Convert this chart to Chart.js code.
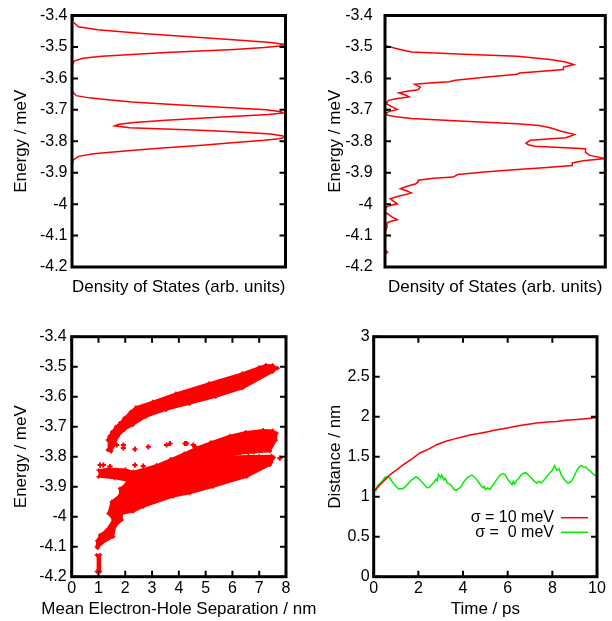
<!DOCTYPE html>
<html>
<head>
<meta charset="utf-8">
<script src="https://cdn.jsdelivr.net/npm/chart.js@4/dist/chart.umd.min.js"></script>
<style>
  body { margin: 0; background: #fff; width: 612px; height: 621px; position: relative; overflow: hidden; }
  canvas { position: absolute; }
</style>
</head>
<body>
<canvas id="dosFlat" width="306" height="310" style="left:0;top:0"></canvas>
<canvas id="dosDisorder" width="306" height="310" style="left:306px;top:0"></canvas>
<canvas id="separation" width="330" height="311" style="left:0;top:310px"></canvas>
<canvas id="distance" width="306" height="311" style="left:306px;top:310px"></canvas>
<script>
// tick values
const energyTicks = [-4.2, -4.1, -4.0, -3.9, -3.8, -3.7, -3.6, -3.5, -3.4];
const separationTicks = [0, 1, 2, 3, 4, 5, 6, 7, 8];
const timeTicks = [0, 2, 4, 6, 8, 10];
const distanceTicks = [0, 0.5, 1, 1.5, 2, 2.5, 3];

// top left: density of states, sigma = 0
const dosFlatEnergy = [-3.40, -3.42, -3.436, -3.445, -3.457, -3.465, -3.473, -3.480, -3.486, -3.492, -3.497, -3.502, -3.508, -3.513, -3.518, -3.524, -3.530, -3.536, -3.545, -3.56,
  -3.64, -3.655, -3.662, -3.668, -3.675, -3.683, -3.691, -3.700, -3.706, -3.710, -3.715, -3.720, -3.727, -3.733, -3.740, -3.746, -3.751, -3.757, -3.765, -3.771, -3.777, -3.783, -3.787, -3.792, -3.797, -3.805, -3.813, -3.821, -3.829, -3.835, -3.840, -3.848, -3.86, -3.88, -4.2];
const dosFlatValue = [0, 0.004, 0.03, 0.12, 0.33, 0.5, 0.67, 0.82, 0.93, 1.0, 0.97, 0.9, 0.76, 0.6, 0.44, 0.28, 0.14, 0.05, 0.01, 0,
  0, 0.02, 0.08, 0.17, 0.28, 0.47, 0.68, 0.91, 0.98, 0.99, 0.92, 0.79, 0.6, 0.44, 0.29, 0.22, 0.2, 0.27, 0.6, 0.8, 0.93, 0.99, 1.0, 0.97, 0.9, 0.75, 0.61, 0.44, 0.29, 0.18, 0.1, 0.03, 0.005, 0, 0];

// top right: density of states, sigma = 10 meV
const dosDisorderEnergy = [-3.40, -3.495, -3.505, -3.516, -3.523, -3.530, -3.540, -3.548, -3.556, -3.564, -3.572, -3.578, -3.583, -3.587, -3.597, -3.606, -3.611, -3.615, -3.619, -3.628,
  -3.636, -3.641, -3.646, -3.652, -3.659, -3.665, -3.670, -3.680, -3.690, -3.699, -3.705, -3.710, -3.717, -3.722, -3.728, -3.736, -3.744, -3.750, -3.757, -3.768,
  -3.778, -3.784, -3.789, -3.797, -3.806, -3.811, -3.816, -3.824, -3.835, -3.845, -3.855, -3.862, -3.869, -3.877, -3.884, -3.890, -3.898, -3.906, -3.914, -3.918,
  -3.924, -3.930, -3.935, -3.943, -3.951, -3.958, -3.965, -3.975, -3.983, -3.991, -3.999, -4.005, -4.010, -4.025, -4.040, -4.050, -4.056, -4.062, -4.068, -4.075,
  -4.090, -4.145, -4.153, -4.160, -4.2];
const dosDisorderValue = [0, 0, 0.05, 0.12, 0.36, 0.6, 0.75, 0.82, 0.857, 0.81, 0.81, 0.7, 0.61, 0.6, 0.44, 0.32, 0.29, 0.2, 0.135, 0.16,
  0.15, 0.1, 0.063, 0.09, 0.11, 0.05, 0.016, 0.005, 0.03, 0.056, 0.02, 0.005, 0.01, 0.05, 0.12, 0.36, 0.6, 0.7, 0.75, 0.8,
  0.86, 0.84, 0.82, 0.66, 0.64, 0.65, 0.68, 0.91, 0.91, 0.93, 1.0, 0.9, 0.85, 0.85, 0.72, 0.6, 0.45, 0.33, 0.31, 0.22,
  0.15, 0.15, 0.14, 0.1, 0.07, 0.1, 0.12, 0.06, 0.024, 0.04, 0.056, 0.02, 0.005, 0, 0.03, 0.056, 0.02, 0.005, 0.01, 0.008,
  0, 0, 0.012, 0, 0];

// bottom left: outlines of the dense point clouds, plus stray points
const bandHighX = [1.34, 1.40, 1.50, 1.65, 1.80, 1.96, 2.20, 2.40, 3.02, 3.89, 5.13, 6.38, 7.00, 7.25, 7.50, 7.69, 7.50, 6.38, 5.38, 4.39, 3.52, 2.77, 2.28, 1.96, 1.72, 1.59, 1.47, 1.34];
const bandHighY = [-3.744, -3.733, -3.718, -3.700, -3.688, -3.672, -3.650, -3.635, -3.617, -3.589, -3.555, -3.522, -3.502, -3.494, -3.495, -3.505, -3.517, -3.572, -3.600, -3.624, -3.644, -3.667, -3.694, -3.711, -3.733, -3.761, -3.783, -3.778];
const bandMidX = [2.30, 3.17, 3.70, 4.20, 4.66, 5.20, 5.90, 6.50, 7.15, 7.50, 7.65, 7.62, 7.40, 6.80, 6.30, 6.03, 5.00, 4.00, 3.00, 2.40];
const bandMidY = [-3.850, -3.828, -3.808, -3.789, -3.770, -3.752, -3.730, -3.718, -3.711, -3.713, -3.722, -3.745, -3.782, -3.786, -3.789, -3.794, -3.830, -3.870, -3.890, -3.880];
const bandLowX = [1.00, 1.40, 2.00, 2.30, 3.00, 4.00, 5.00, 6.03, 6.60, 7.00, 7.46, 7.55, 7.45, 7.40, 6.53, 5.28, 4.41, 3.79, 2.67, 2.30,
  1.87, 1.87, 1.62, 1.55, 1.12, 0.97, 0.93, 0.95, 1.06, 1.31, 1.55, 1.37, 1.49, 1.80, 1.80, 1.93, 2.10, 1.60, 1.00];
const bandLowY = [-3.845, -3.839, -3.843, -3.850, -3.860, -3.840, -3.815, -3.799, -3.798, -3.798, -3.797, -3.803, -3.820, -3.828, -3.867, -3.900, -3.922, -3.933, -3.967, -3.983,
  -3.990, -4.011, -4.033, -4.067, -4.089, -4.105, -4.100, -4.080, -4.061, -4.044, -4.011, -3.989, -3.950, -3.928, -3.906, -3.900, -3.880, -3.872, -3.867];
const tailX = [0.93, 1.06, 1.06, 0.93];
const tailY = [-4.128, -4.128, -4.183, -4.183];
const strayX = [1.68, 1.93, 1.93, 2.36, 2.86, 3.54, 3.67, 4.23, 4.29, 4.54, 4.60, 1.06, 1.18, 1.43, 2.36, 2.67, 7.77, 4.25];
const strayY = [-3.761, -3.761, -3.771, -3.775, -3.767, -3.761, -3.756, -3.756, -3.756, -3.761, -3.767, -3.828, -3.828, -3.833, -3.828, -3.831, -3.805, -3.620];

// bottom right: electron-hole distance over time
const timeRed = [0, 0.1, 0.25, 0.5, 0.75, 1.0, 1.33, 1.7, 2.07, 2.5, 2.82, 3.2, 3.57, 4.0, 4.31, 4.7, 5.06, 5.4, 5.8, 6.2, 6.55, 7.0, 7.3, 7.8, 8.2, 8.6, 9.09, 9.5, 10];
const distRed = [1.07, 1.09, 1.14, 1.21, 1.28, 1.33, 1.40, 1.47, 1.546, 1.60, 1.65, 1.69, 1.72, 1.75, 1.77, 1.79, 1.81, 1.83, 1.85, 1.87, 1.89, 1.91, 1.92, 1.935, 1.94, 1.955, 1.965, 1.975, 1.99];
const timeGreen = [0, 0.05, 0.1, 0.15, 0.2, 0.3, 0.4, 0.5, 0.6, 0.7, 0.8, 0.9, 1.0, 1.1, 1.2, 1.3, 1.4, 1.5, 1.6, 1.7, 1.8, 1.9, 2.0, 2.1, 2.2, 2.3, 2.4, 2.5, 2.6, 2.7,
  2.8, 2.85, 2.9, 3.0, 3.05, 3.15, 3.2, 3.3, 3.4, 3.5, 3.6, 3.7, 3.8, 3.9, 4.0, 4.1, 4.2, 4.4, 4.5, 4.6, 4.7, 4.8, 4.9, 4.95, 5.0, 5.1, 5.2, 5.3, 5.4, 5.5,
  5.6, 5.7, 5.8, 5.9, 6.0, 6.1, 6.2, 6.25, 6.3, 6.4, 6.5, 6.6, 6.7, 6.8, 6.9, 7.0, 7.1, 7.2, 7.3, 7.4, 7.5, 7.6, 7.7, 7.8, 7.9, 8.0, 8.1, 8.2, 8.3, 8.4,
  8.5, 8.6, 8.7, 8.8, 8.9, 9.0, 9.1, 9.2, 9.3, 9.4, 9.5, 9.6, 9.7, 9.8, 9.9, 10.0];
const distGreen = [1.07, 1.10, 1.08, 1.13, 1.15, 1.17, 1.20, 1.24, 1.25, 1.24, 1.20, 1.16, 1.13, 1.10, 1.10, 1.10, 1.12, 1.15, 1.18, 1.21, 1.23, 1.25, 1.23, 1.20, 1.17, 1.14, 1.11, 1.12, 1.15, 1.18,
  1.22, 1.20, 1.28, 1.24, 1.27, 1.21, 1.23, 1.17, 1.16, 1.13, 1.09, 1.08, 1.10, 1.12, 1.17, 1.21, 1.24, 1.27, 1.25, 1.22, 1.18, 1.14, 1.11, 1.13, 1.09, 1.11, 1.09, 1.13, 1.17, 1.21,
  1.25, 1.28, 1.29, 1.27, 1.22, 1.18, 1.15, 1.19, 1.16, 1.20, 1.23, 1.27, 1.29, 1.30, 1.28, 1.25, 1.22, 1.19, 1.17, 1.19, 1.17, 1.20, 1.23, 1.27, 1.30, 1.33, 1.39, 1.33, 1.35, 1.27,
  1.23, 1.19, 1.17, 1.18, 1.21, 1.27, 1.33, 1.37, 1.39, 1.37, 1.37, 1.34, 1.32, 1.29, 1.27, 1.25];

const FONT = "'Liberation Sans', Arial, Helvetica, sans-serif";
const tickFont = { family: FONT, size: 16 };
const titleFont = { family: FONT, size: 17 };
const RED = '#ff0000';
const GREEN = '#00ee00';

const pts = (xs, ys) => xs.map((x, i) => ({ x, y: ys[i] }));
const fmt = v => String(+(+v).toFixed(2));

// gnuplot style frame with inward ticks on all four sides
const framePlugin = {
  id: 'frame',
  afterDatasetsDraw(chart, args, opts) {
    const { ctx, chartArea: a, scales } = chart;
    const len = 6;
    ctx.save();
    ctx.strokeStyle = '#000';
    ctx.lineWidth = 2;
    if (opts.xTicks) {
      scales.x.ticks.forEach(t => {
        const px = scales.x.getPixelForValue(t.value);
        ctx.beginPath();
        ctx.moveTo(px, a.bottom); ctx.lineTo(px, a.bottom - len);
        ctx.moveTo(px, a.top); ctx.lineTo(px, a.top + len);
        ctx.stroke();
      });
    }
    scales.y.ticks.forEach(t => {
      const py = scales.y.getPixelForValue(t.value);
      ctx.beginPath();
      ctx.moveTo(a.left, py); ctx.lineTo(a.left + len, py);
      ctx.moveTo(a.right, py); ctx.lineTo(a.right - len, py);
      ctx.stroke();
    });
    ctx.lineWidth = 3;
    ctx.strokeRect(a.left, a.top, a.right - a.left, a.bottom - a.top);
    ctx.restore();
  }
};
Chart.register(framePlugin);

function yAxis(min, max, tickValues, width, tickPad, title, titlePad) {
  return {
    min, max,
    grid: { display: false, drawTicks: false },
    border: { display: false },
    afterBuildTicks: s => { s.ticks = tickValues.map(v => ({ value: v })); },
    // fixed width; the layout padding already leaves room for the end labels
    afterFit: s => { s.width = width; s.paddingTop = 0; s.paddingBottom = 0; },
    ticks: { color: '#000', font: tickFont, padding: tickPad, callback: v => fmt(v) },
    title: { display: true, text: title, color: '#000', font: titleFont, padding: { top: titlePad, bottom: 0 } }
  };
}

function xAxis(min, max, tickValues, height, title, titlePad) {
  return {
    min, max,
    grid: { display: false, drawTicks: false },
    border: { display: false },
    afterBuildTicks: s => { if (tickValues) s.ticks = tickValues.map(v => ({ value: v })); },
    afterFit: s => { s.height = height; },
    ticks: { display: !!tickValues, color: '#000', font: tickFont, padding: 2, maxRotation: 0, callback: v => fmt(v) },
    title: { display: !!title, text: title || '', color: '#000', font: titleFont, padding: { top: 0, bottom: titlePad } }
  };
}

const common = {
  responsive: false,
  animation: false,
  events: [],
  plugins: { legend: { display: false }, tooltip: { enabled: false } }
};

// top left
new Chart(document.getElementById('dosFlat'), {
  type: 'scatter',
  data: { datasets: [{ data: pts(dosFlatValue, dosFlatEnergy), showLine: true, borderColor: RED, borderWidth: 1.5, pointRadius: 0 }] },
  options: {
    ...common,
    layout: { padding: { left: 0, top: 15.5, right: 20.5, bottom: 0 } },
    plugins: { ...common.plugins, frame: { xTicks: false } },
    scales: {
      x: xAxis(0, 1, null, 43, 'Density of States (arb. units)', 12),
      y: yAxis(-4.2, -3.4, energyTicks, 72, 4.5, 'Energy / meV', 11.5)
    }
  }
});

// top right
new Chart(document.getElementById('dosDisorder'), {
  type: 'scatter',
  data: { datasets: [{ data: pts(dosDisorderValue, dosDisorderEnergy), showLine: true, borderColor: RED, borderWidth: 1.5, pointRadius: 0 }] },
  options: {
    ...common,
    layout: { padding: { left: 0, top: 15.5, right: 6.7, bottom: 0 } },
    plugins: { ...common.plugins, frame: { xTicks: false } },
    scales: {
      x: xAxis(0, 1, null, 43, 'Density of States (arb. units)', 12),
      y: yAxis(-4.2, -3.4, energyTicks, 79, 12.3, 'Energy / meV', 19)
    }
  }
});

// bottom left
const cloud = (xs, ys) => ({
  data: pts(xs, ys), showLine: true, fill: 'shape', tension: 0,
  borderColor: RED, backgroundColor: RED, borderWidth: 2,
  pointStyle: 'cross', pointRadius: 2, pointBorderWidth: 1.5, pointBorderColor: RED
});
const sepTitle = {
  id: 'sepTitle',
  afterDraw(chart) {
    const { ctx, chartArea: a } = chart;
    ctx.save();
    ctx.font = `${titleFont.size}px ${FONT}`;
    ctx.fillStyle = '#000';
    ctx.textAlign = 'center';
    ctx.textBaseline = 'middle';
    ctx.fillText('Mean Electron-Hole Separation / nm', (a.left + a.right) / 2, a.bottom + 32.5);
    ctx.restore();
  }
};
new Chart(document.getElementById('separation'), {
  type: 'scatter',
  data: {
    datasets: [
      cloud(bandHighX, bandHighY),
      cloud(bandMidX, bandMidY),
      cloud(bandLowX, bandLowY),
      cloud(tailX, tailY),
      { data: pts(strayX, strayY), pointStyle: 'cross', pointRadius: 2.6, borderWidth: 2, borderColor: RED, backgroundColor: RED }
    ]
  },
  options: {
    ...common,
    layout: { padding: { left: 0, top: 26.7, right: 44, bottom: 0 } },
    plugins: { ...common.plugins, frame: { xTicks: true } },
    scales: {
      x: xAxis(0, 8, separationTicks, 44.3, null, 0),
      y: yAxis(-4.2, -3.4, energyTicks, 71.7, 5, 'Energy / meV', 11.5)
    }
  },
  plugins: [sepTitle]
});

// bottom right
const sigmaLegend = {
  id: 'sigmaLegend',
  afterDatasetsDraw(chart) {
    const { ctx, chartArea: a } = chart;
    ctx.save();
    ctx.font = `${tickFont.size}px ${FONT}`;
    ctx.textAlign = 'right';
    ctx.textBaseline = 'middle';
    chart.data.datasets.forEach((ds, i) => {
      const y = a.bottom - 59 + i * 14.6;
      ctx.fillStyle = '#000';
      ctx.fillText(ds.label, a.right - 43, y);
      ctx.strokeStyle = ds.borderColor;
      ctx.lineWidth = ds.borderWidth;
      ctx.beginPath();
      ctx.moveTo(a.right - 36, y);
      ctx.lineTo(a.right - 9, y);
      ctx.stroke();
    });
    ctx.restore();
  }
};
new Chart(document.getElementById('distance'), {
  type: 'scatter',
  data: {
    datasets: [
      { label: 'σ = 10 meV', data: pts(timeRed, distRed), showLine: true, borderColor: RED, borderWidth: 1.5, pointRadius: 0 },
      { label: 'σ =  0 meV', data: pts(timeGreen, distGreen), showLine: true, borderColor: GREEN, borderWidth: 1.5, pointRadius: 0 }
    ]
  },
  options: {
    ...common,
    layout: { padding: { left: 0, top: 26.7, right: 15, bottom: 0 } },
    plugins: { ...common.plugins, frame: { xTicks: true } },
    scales: {
      x: xAxis(0, 10, timeTicks, 44.3, 'Time / ps', 1.8),
      y: yAxis(0, 3, distanceTicks, 67.7, 4, 'Distance / nm', 19)
    }
  },
  plugins: [sigmaLegend]
});
</script>
</body>
</html>
